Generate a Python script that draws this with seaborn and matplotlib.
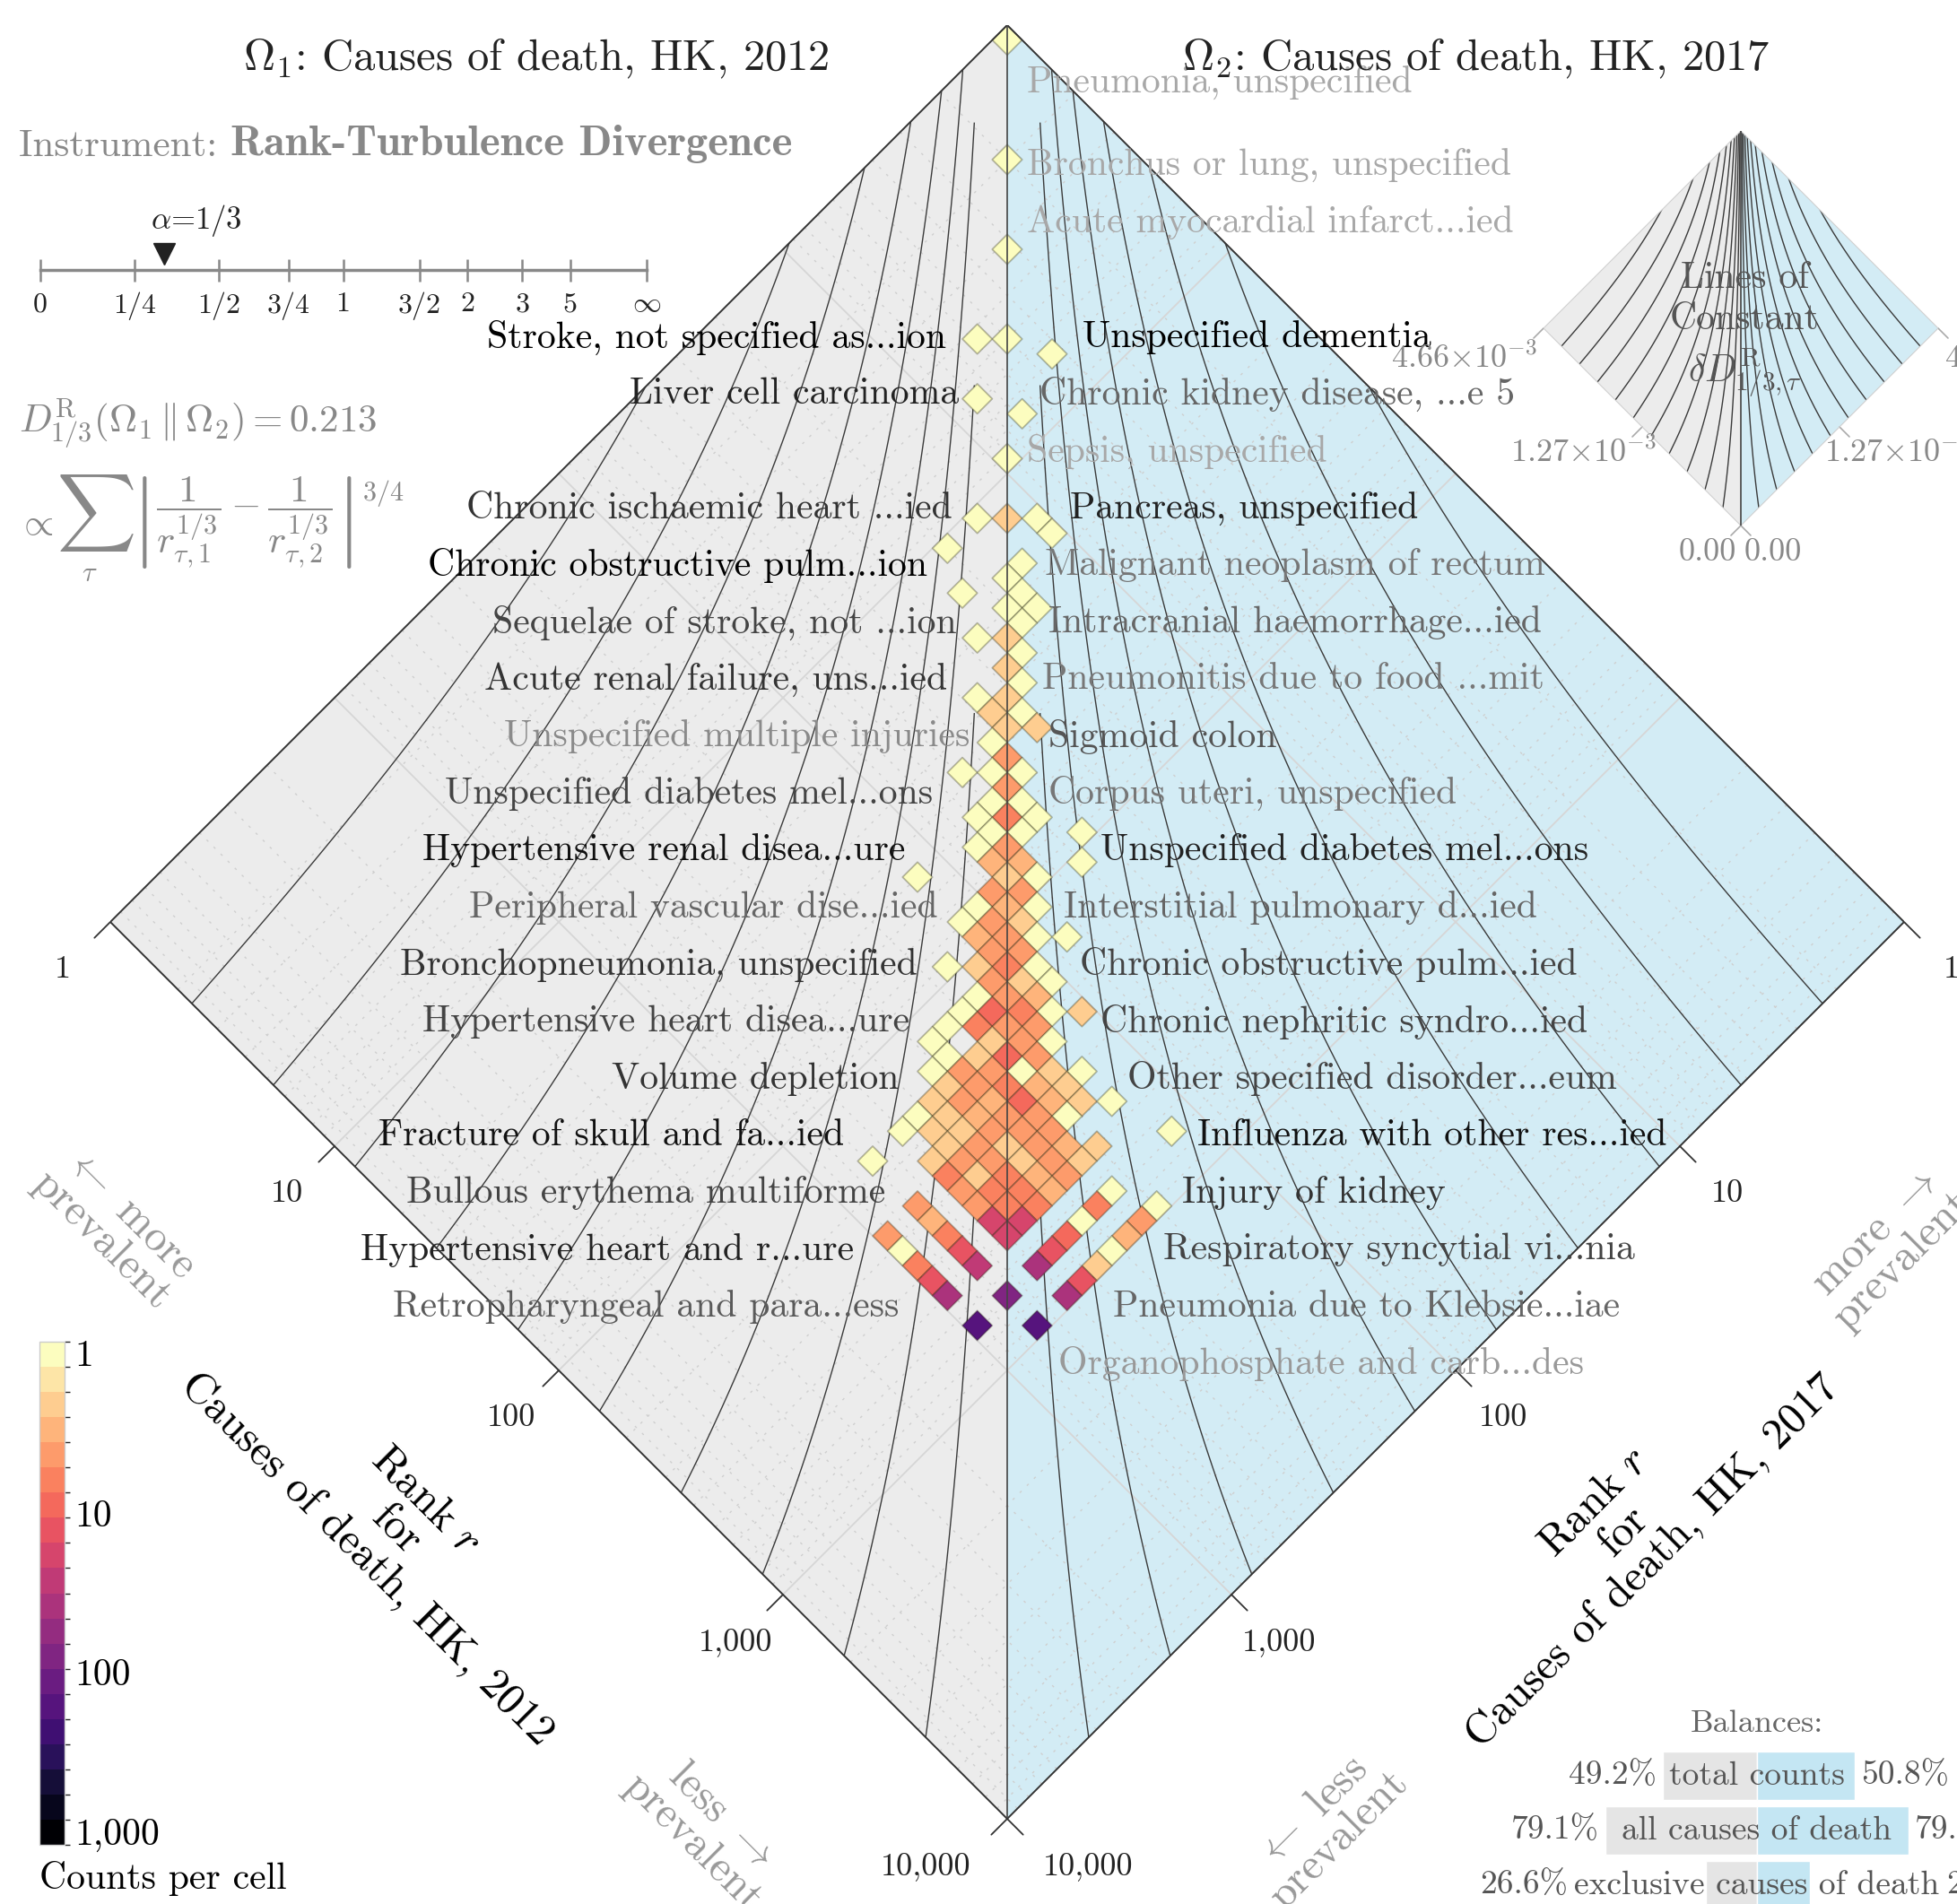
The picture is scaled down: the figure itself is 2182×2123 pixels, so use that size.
import numpy as np
import pandas as pd
import matplotlib
matplotlib.use('Agg')
import matplotlib.pyplot as plt
import seaborn as sns
from matplotlib.collections import PolyCollection
from matplotlib.colors import ListedColormap, BoundaryNorm
from matplotlib.patches import Polygon
from matplotlib.cm import ScalarMappable
from matplotlib.ticker import NullLocator

# ---------------- data ----------------
alpha = 1 / 3
bin_width = 1 / 15          # width of a histogram bin in log10(rank)
max_exp = 4                 # ranks run from 1 to 10,000

# rank-rank histogram: bin of the rank in 2012, bin of the rank in 2017, count
cell_bin_2012 = [0, 4, 7, 9, 10, 12, 11, 13, 14, 15, 16, 17, 18, 15, 18, 18, 17, 19, 19, 20,
                 20, 19, 20, 21, 21, 22, 21, 22, 22, 23, 23, 24, 23, 24, 23, 24, 25, 25, 25, 26,
                 25, 26, 27, 26, 27, 29, 26, 27, 27, 28, 30, 25, 28, 29, 28, 29, 28, 29, 30, 28,
                 29, 30, 29, 30, 31, 32, 30, 31, 29, 30, 31, 32, 31, 32, 33, 31, 32, 33, 31, 32,
                 33, 34, 35, 31, 32, 33, 34, 31, 33, 34, 35, 32, 33, 34, 35, 32, 33, 34, 35, 36,
                 37, 33, 34, 35, 36, 37, 33, 34, 35, 36, 37, 38, 39, 33, 34, 35, 36, 37, 38, 33,
                 34, 35, 36, 37, 38, 42, 35, 36, 37, 38, 39, 40, 33, 35, 36, 37, 38, 39, 40, 36,
                 37, 38, 39, 40, 37, 38, 39, 40, 42, 36, 38, 39, 40, 42, 44, 37, 39, 40, 42, 44,
                 36, 38, 40, 42, 44, 37, 39, 42, 44, 38, 40, 42, 44, 39, 44, 40, 42, 44, 42, 44]
cell_bin_2017 = [0, 4, 7, 11, 10, 9, 13, 12, 14, 17, 16, 15, 15, 19, 17, 18, 20, 18, 19, 18,
                 19, 21, 20, 20, 21, 21, 23, 22, 23, 22, 23, 22, 24, 24, 26, 25, 24, 25, 26, 25,
                 27, 26, 25, 27, 26, 24, 28, 27, 28, 27, 25, 31, 28, 27, 29, 28, 30, 29, 28, 31,
                 30, 29, 31, 30, 29, 28, 31, 30, 33, 32, 31, 30, 32, 31, 30, 33, 32, 31, 34, 33,
                 32, 31, 30, 35, 34, 33, 32, 36, 34, 33, 32, 36, 35, 34, 33, 37, 36, 35, 34, 33,
                 32, 37, 36, 35, 34, 33, 38, 37, 36, 35, 34, 33, 32, 39, 38, 37, 36, 35, 34, 40,
                 39, 38, 37, 36, 35, 31, 39, 38, 37, 36, 35, 34, 42, 40, 39, 38, 37, 36, 35, 40,
                 39, 38, 37, 36, 40, 39, 38, 37, 35, 42, 40, 39, 38, 36, 34, 42, 40, 39, 37, 35,
                 44, 42, 40, 38, 36, 44, 42, 39, 37, 44, 42, 40, 38, 44, 39, 44, 42, 40, 44, 42]
cell_count = [1, 1, 1, 1, 1, 1, 1, 1, 1, 1, 2, 1, 1, 1, 1, 1, 1, 1, 1, 1,
              1, 1, 2, 1, 2, 1, 1, 2, 2, 1, 2, 2, 1, 4, 1, 1, 1, 4, 1, 1,
              1, 6, 1, 1, 1, 1, 1, 5, 3, 3, 1, 1, 2, 1, 5, 4, 1, 3, 1, 1,
              4, 2, 3, 5, 1, 1, 4, 4, 1, 2, 6, 1, 4, 2, 1, 1, 4, 3, 1, 10,
              6, 1, 2, 1, 6, 4, 4, 1, 2, 4, 1, 1, 2, 10, 4, 1, 4, 4, 1, 2,
              1, 2, 5, 6, 3, 2, 2, 4, 3, 9, 3, 2, 1, 1, 2, 3, 5, 4, 1, 1,
              2, 2, 4, 5, 4, 1, 2, 4, 2, 4, 3, 2, 1, 2, 4, 4, 2, 5, 2, 6,
              2, 6, 3, 4, 4, 6, 6, 3, 1, 4, 4, 6, 6, 6, 1, 3, 18, 18, 1, 4,
              4, 6, 18, 9, 3, 1, 15, 13, 1, 6, 27, 45, 2, 11, 13, 38, 80, 38, 160, 160]

# annotated causes of death
left_types = ["Stroke, not specified as...ion", "Liver cell carcinoma",
              "Chronic ischaemic heart ...ied", "Chronic obstructive pulm...ion",
              "Sequelae of stroke, not ...ion", "Acute renal failure, uns...ied",
              "Unspecified multiple injuries", "Unspecified diabetes mel...ons",
              "Hypertensive renal disea...ure", "Peripheral vascular dise...ied",
              "Bronchopneumonia, unspecified", "Hypertensive heart disea...ure",
              "Volume depletion", "Fracture of skull and fa...ied",
              "Bullous erythema multiforme", "Hypertensive heart and r...ure",
              "Retropharyngeal and para...ess"]
left_shade = ['#000000', '#222222', '#333333', '#000000', '#444444', '#333333', '#8a8a8a',
              '#444444', '#111111', '#666666', '#333333', '#444444', '#333333', '#111111',
              '#444444', '#222222', '#5a5a5a']
right_types = ["Pneumonia, unspecified", "Bronchus or lung, unspecified",
               "Acute myocardial infarct...ied", "Unspecified dementia",
               "Chronic kidney disease, ...e 5", "Sepsis, unspecified",
               "Pancreas, unspecified", "Malignant neoplasm of rectum",
               "Intracranial haemorrhage...ied", "Pneumonitis due to food ...mit",
               "Sigmoid colon", "Corpus uteri, unspecified",
               "Unspecified diabetes mel...ons", "Interstitial pulmonary d...ied",
               "Chronic obstructive pulm...ied", "Chronic nephritic syndro...ied",
               "Other specified disorder...eum", "Influenza with other res...ied",
               "Injury of kidney", "Respiratory syncytial vi...nia",
               "Pneumonia due to Klebsie...iae", "Organophosphate and carb...des"]
right_shade = ['#a8a8a8', '#a8a8a8', '#a8a8a8', '#000000', '#666666', '#a8a8a8', '#222222',
               '#777777', '#666666', '#777777', '#555555', '#777777', '#222222', '#666666',
               '#444444', '#444444', '#444444', '#111111', '#333333', '#444444', '#666666',
               '#999999']

rank_ticks = ['1', '10', '100', '1,000', '10,000']
slider_alphas = [0, 1/4, 1/2, 3/4, 1, 3/2, 2, 3, 5, 1e9]
slider_labels = ['0', '1/4', '1/2', '3/4', '1', '3/2', '2', '3', '5', r'$\infty$']
divergence = 0.213
inset_ticks = [r'0.00', r'$1.27{\times}10^{-3}$', r'$4.66{\times}10^{-3}$']

balance_names = ['total counts', 'all causes of death', 'exclusive causes of death']
balance_left = [49.2, 79.1, 26.6]
balance_right = [50.8, 79.0, 27.4]

# ---------------- style ----------------
sns.set_theme(style='white')
plt.rcParams['font.family'] = ['cmr10']
plt.rcParams['mathtext.fontset'] = 'cm'
plt.rcParams['axes.formatter.use_mathtext'] = True
plt.rcParams['axes.unicode_minus'] = False

W, H = 2182, 2123
TOP_X, TOP_Y, SCALE = 1123, 28, 250   # pixel of diamond top, pixels per decade
IN_X, IN_Y, IN_SCALE = 1941, 146, 55  # same for the small inset diamond
GRAY_BG = '#ececec'
BLUE_BG = '#d3ecf5'
LINE = '#333333'

fig = plt.figure(figsize=(W / 100, H / 100), dpi=100)


def P(px, py):
    return px / W, 1 - py / H


def to_diamond(u, v):
    u = np.asarray(u, dtype=float)
    v = np.asarray(v, dtype=float)
    return u - v, -(u + v)


def px_to_diamond(px, py, x0=TOP_X, y0=TOP_Y, sc=SCALE):
    return (px - x0) / sc, -(py - y0) / sc


def diamond_axes(left_px, top_px, size_px):
    a = fig.add_axes([left_px / W, 1 - (top_px + size_px) / H, size_px / W, size_px / H])
    a.set_xlim(-max_exp, max_exp)
    a.set_ylim(-2 * max_exp, 0)
    a.axis('off')
    return a


def draw_halves(a, edge, lw):
    for corner, col in [((0, max_exp), GRAY_BG), ((max_exp, 0), BLUE_BG)]:
        xs, ys = to_diamond([0, corner[0], max_exp], [0, corner[1], max_exp])
        a.add_patch(Polygon(np.column_stack([xs, ys]), closed=True, facecolor=col,
                            edgecolor='none', zorder=0))
    xs, ys = to_diamond([0, 0, max_exp, max_exp, 0], [0, max_exp, max_exp, 0, 0])
    a.plot(xs, ys, color=edge, lw=lw, zorder=6, solid_joinstyle='miter')
    xs, ys = to_diamond([0, max_exp], [0, max_exp])
    a.plot(xs, ys, color='#444444', lw=1.2, zorder=6)
    return Polygon(np.column_stack(to_diamond([0, 0, max_exp, max_exp],
                                              [0, max_exp, max_exp, 0])),
                   closed=True, transform=a.transData)


def draw_contours(a, clip, gap):
    gx = np.linspace(-max_exp, max_exp, 1201)
    gy = np.linspace(-2 * max_exp, 0, 1201)
    GX, GY = np.meshgrid(gx, gy)
    GU, GV = (GX - GY) / 2, (-GX - GY) / 2
    Z = 10 ** (-alpha * GU) - 10 ** (-alpha * GV)
    Z = np.ma.masked_where(np.abs(GX) < gap, Z)
    k = np.arange(1, 11)
    lev = 10 ** (-alpha * max_exp * k / 11) - 10 ** (-alpha * max_exp)
    levels = np.sort(np.concatenate([-lev, lev]))
    cs = a.contour(GX, GY, Z, levels=levels, colors='#3a3a3a', linewidths=1.0,
                   linestyles='solid', zorder=2)
    cs.set_clip_path(clip)


# ---------------- main diamond ----------------
ax = diamond_axes(TOP_X - max_exp * SCALE, TOP_Y, 2 * max_exp * SCALE)
clip = draw_halves(ax, LINE, 1.4)

# rank grid
for e in range(1, max_exp):
    for uu, vv in [([e, e], [0, max_exp]), ([0, max_exp], [e, e])]:
        xs, ys = to_diamond(uu, vv)
        ax.plot(xs, ys, color='#d6d6d6', lw=1.3, zorder=1)
minor = np.concatenate([np.log10(np.arange(2, 10)) + e for e in range(max_exp)])
for m in minor:
    for uu, vv in [([m, m], [0, max_exp]), ([0, max_exp], [m, m])]:
        xs, ys = to_diamond(uu, vv)
        ax.plot(xs, ys, color='#cfcfcf', lw=1.0, ls=(0, (2, 6)), zorder=1)

draw_contours(ax, clip, 0.145)

# histogram cells
colors = plt.get_cmap('magma_r')(np.linspace(0, 1, 20))
cmap = ListedColormap(colors)
bounds = 10 ** (3 * (np.arange(21) - 0.5) / 19)
norm = BoundaryNorm(bounds, 20)

bi = np.array(cell_bin_2012) * bin_width
bj = np.array(cell_bin_2017) * bin_width
verts = []
for u0, v0 in zip(bi, bj):
    xs, ys = to_diamond([u0, u0 + bin_width, u0 + bin_width, u0],
                        [v0, v0, v0 + bin_width, v0 + bin_width])
    verts.append(np.column_stack([xs, ys]))
cells = PolyCollection(verts, array=np.array(cell_count, dtype=float), cmap=cmap, norm=norm,
                       edgecolors=(0.1, 0.1, 0.0, 0.3), linewidths=1.3, zorder=5)
ax.add_collection(cells)

# axis ticks on the lower edges
for e, lab in enumerate(rank_ticks):
    for side in (-1, 1):
        u, v = (e, max_exp) if side < 0 else (max_exp, e)
        x0, y0 = to_diamond(u, v)
        nx, ny = side / np.sqrt(2), -1 / np.sqrt(2)
        ax.plot([x0, x0 + 0.1 * nx], [y0, y0 + 0.1 * ny], color=LINE, lw=1.3,
                clip_on=False, zorder=6)
        shift = 0.15 * side if e == max_exp else 0
        ax.text(x0 + 0.3 * nx + shift, y0 + 0.3 * ny, lab, ha='center', va='center',
                fontsize=26, color='#222222', clip_on=False)

# type labels
slot_y = [376 + 63.6 * n for n in range(19)]
left_slot = [0, 1, 3, 4, 5, 6, 7, 8, 9, 10, 11, 12, 13, 14, 15, 16, 17]
left_x_px = [1055, 1069, 1062, 1034, 1067, 1056, 1081, 1040, 1009, 1046, 1023, 1014, 1002,
             941, 987, 952, 1002]
for name, s, xp, col in zip(left_types, left_slot, left_x_px, left_shade):
    x, y = px_to_diamond(xp, slot_y[s])
    ax.text(x, y, name, ha='right', va='center', fontsize=30, color=col, zorder=7)

right_y_px = [92, 184, 248] + slot_y
right_x_px = [1145, 1145, 1145, 1207, 1159, 1145, 1193, 1165, 1169, 1162, 1169, 1169, 1227,
              1186, 1204, 1227, 1257, 1335, 1318, 1297, 1241, 1180]
for name, yp, xp, col in zip(right_types, right_y_px, right_x_px, right_shade):
    x, y = px_to_diamond(xp, yp)
    ax.text(x, y, name, ha='left', va='center', fontsize=30, color=col, zorder=7,
            clip_on=False)

# ---------------- inset ----------------
ins = diamond_axes(IN_X - 220, IN_Y, 440)
iclip = draw_halves(ins, '#d0d0d0', 0.8)
draw_contours(ins, iclip, 0.0)
ins.text(*px_to_diamond(1945, 368, IN_X, IN_Y, IN_SCALE),
         'Lines of\nConstant\n' + r'$\delta D^{\rm R}_{1/3,\tau}$',
         ha='center', va='center', fontsize=30, color='#555555', zorder=8, linespacing=1.3,
         clip_on=False)
for (u, v) in [(0, max_exp), (max_exp / 2, max_exp), (max_exp, max_exp)]:
    for side in (-1, 1):
        uu, vv = (u, v) if side < 0 else (v, u)
        x0, y0 = to_diamond(uu, vv)
        ins.plot([x0, x0 + 0.2 * side], [y0, y0 - 0.2], color='#aaaaaa', lw=1.2,
                 clip_on=False)
for lab, (px, py, ha) in zip(inset_ticks + inset_ticks[1:],
                             [(1904, 616, 'center'), (1766, 504, 'center'), (1714, 399, 'right'),
                              (2116, 504, 'center'), (2168, 399, 'left')]):
    fig.text(*P(px, py), lab, ha=ha, va='center', fontsize=26, color='#888888')
fig.text(*P(1977, 616), inset_ticks[0], ha='center', va='center', fontsize=26, color='#888888')

# ---------------- titles & instrument ----------------
fig.text(*P(598, 65), r'$\Omega_1$: Causes of death, HK, 2012', ha='center', va='center',
         fontsize=35, color='#222222')
fig.text(*P(1646, 65), r'$\Omega_2$: Causes of death, HK, 2017', ha='center', va='center',
         fontsize=35, color='#222222')

ov = fig.add_axes([0, 0, 1, 1])
ov.axis('off')
ov.set_zorder(-1)
t1 = fig.text(*P(21, 163), 'Instrument: ', ha='left', va='center', fontsize=31, color='#888888')
ov.annotate('Rank-Turbulence Divergence', xy=(1, 0), xycoords=t1, ha='left', va='bottom',
            fontsize=35, color='#888888', fontfamily='cmb10')

# alpha slider
sx = fig.add_axes([44.5 / W, 1 - 300.6 / H, 676.3 / W, 60 / H])
sx.set_xscale('function', functions=(lambda a: 2 / np.pi * np.arctan(a),
                                     lambda f: np.tan(np.pi / 2 * np.clip(f, 0, 0.9999999999))))
sx.set_xlim(0, 1e9)
sx.set_ylim(0, 1)
sx.patch.set_alpha(0)
for s in ['top', 'left', 'right']:
    sx.spines[s].set_visible(False)
sx.spines['bottom'].set_color('#888888')
sx.spines['bottom'].set_linewidth(2.5)
sx.set_yticks([])
sx.set_xticks(slider_alphas)
sx.set_xticklabels(slider_labels)
sx.xaxis.set_minor_locator(NullLocator())
sx.tick_params(axis='x', direction='inout', length=18, width=1.8, color='#888888',
               labelsize=23, pad=9, labelcolor='#222222', bottom=True)
sx.plot([alpha], [0.3], marker='v', ms=17, color='#222222', clip_on=False)
sx.annotate(r'$\alpha$=1/3', xy=(alpha, 0.3), xytext=(26, 26), textcoords='offset points',
            ha='center', va='center', fontsize=25, color='#222222')

# divergence formula
fig.text(*P(21, 472), r'$D^{\rm R}_{1/3}(\Omega_1\,\Vert\,\Omega_2) = %.3f$' % divergence,
         ha='left', va='center', fontsize=31, color='#888888')
fig.text(*P(19, 585), r'$\propto$', ha='left', va='center', fontsize=31, color='#888888')
fig.text(*P(106, 572), r'$\sum$', ha='center', va='center', fontsize=44, color='#888888')
fig.text(*P(100, 640), r'$\tau$', ha='center', va='center', fontsize=22, color='#888888')
fig.text(*P(146, 583), r'$\left|\dfrac{1}{r_{\tau,1}^{1/3}} - '
         r'\dfrac{1}{r_{\tau,2}^{1/3}}\right|^{3/4}$',
         ha='left', va='center', fontsize=31, color='#888888')

# ---------------- axis labels ----------------
fig.text(*P(442, 1706), 'Rank $r$\nfor\nCauses of death, HK, 2012', rotation=-45,
         ha='center', va='center', rotation_mode='anchor', multialignment='center',
         fontsize=35, color='#000000', linespacing=1.05)
fig.text(*P(1810, 1708), 'Rank $r$\nfor\nCauses of death, HK, 2017', rotation=45,
         ha='center', va='center', rotation_mode='anchor', multialignment='center',
         fontsize=35, color='#000000', linespacing=1.05)
for (px, py), txt, rot in [((129, 1368), '$\\leftarrow$ more\nprevalent', -45),
                           ((788, 2040), 'less $\\rightarrow$\nprevalent', -45),
                           ((2106, 1390), 'more $\\rightarrow$\nprevalent', 45),
                           ((1478, 2036), '$\\leftarrow$ less\nprevalent', 45)]:
    fig.text(*P(px, py), txt, rotation=rot, ha='center', va='center', rotation_mode='anchor',
             multialignment='center', fontsize=35, color='#999999', linespacing=1.0)

# ---------------- colorbar ----------------
cax = fig.add_axes([44 / W, 1 - 2057 / H, 28 / W, 561 / H])
cb = fig.colorbar(ScalarMappable(norm=norm, cmap=cmap), cax=cax, boundaries=bounds,
                  ticks=[1, 10, 100, 1000], drawedges=True)
cax.invert_yaxis()
cb.set_ticklabels(['1', '10', '100', '1,000'])
cax.tick_params(length=0, labelsize=30, pad=8, colors='#000000')
cb.outline.set_edgecolor('#cccccc')
cb.outline.set_linewidth(1)
cb.dividers.set_color((0, 0, 0, 0.25))
cb.dividers.set_linewidth(1)
fig.text(*P(44, 2094), 'Counts per cell', ha='left', va='center', fontsize=30,
         color='#000000')

# ---------------- balances ----------------
bx = fig.add_axes([(1959 - 213.6) / W, 1 - 2132.5 / H, 427.2 / W, 183 / H])
bal = pd.DataFrame({'name': balance_names, 'left': [-v for v in balance_left],
                    'right': balance_right})
sns.barplot(data=bal, y='name', x='left', color='#e5e5e5', saturation=1, width=0.88,
            orient='h', ax=bx)
sns.barplot(data=bal, y='name', x='right', color='#c4e6f3', saturation=1, width=0.88,
            orient='h', ax=bx)
bx.set_xlim(-100, 100)
bx.set_ylim(2.5, -0.5)
bx.axis('off')
bx.text(0, -0.95, 'Balances:', ha='center', va='center', fontsize=26, color='#666666')
renderer = fig.canvas.get_renderer()
for r, (name, lv, rv) in enumerate(zip(balance_names, balance_left, balance_right)):
    t = bx.text(0, r, name, ha='center', va='center', fontsize=27, color='#555555')
    bb = t.get_window_extent(renderer=renderer).transformed(bx.transData.inverted())
    lo = min(bb.x0, -lv)
    hi = max(bb.x1, rv)
    bx.text(lo - 3.5, r, '%.1f%%' % lv, ha='right', va='center', fontsize=27,
            color='#555555')
    bx.text(hi + 3.5, r, '%.1f%%' % rv, ha='left', va='center', fontsize=27,
            color='#555555', clip_on=False)

fig.savefig('out.png', dpi=100)
